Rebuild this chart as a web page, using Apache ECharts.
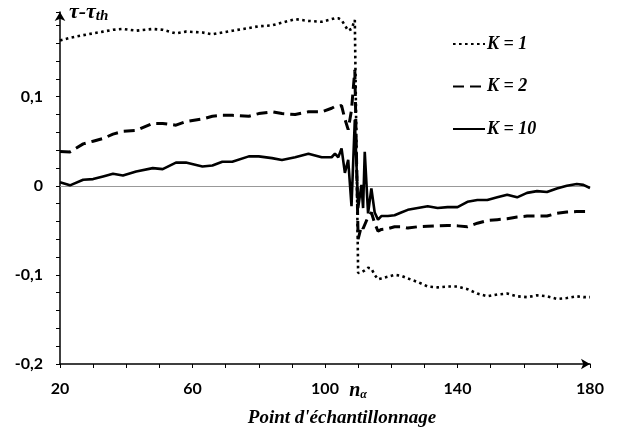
<!DOCTYPE html>
<html>
<head>
<meta charset="utf-8">
<script src="https://cdn.jsdelivr.net/npm/echarts@6/dist/echarts.min.js"></script>
<style>html,body{margin:0;padding:0;background:#fff;}#c{width:629px;height:434px;}</style>
</head>
<body>
<div id="c"></div>
<script>
const samples = [20,23,27,30,33,36,39,43,48,51,55,58,63,66,69,72,77,80,84,87,91,95,99,102,103,104,105,106,107,108,109,110,111,111.5,112,113,114,115,116,117,119,121,123,125,128,131,134,137,140,143,146,149,152,155,158,161,164,167,170,173,176,178,180];
const k1 = [0.163,0.166,0.169,0.171,0.173,0.175,0.176,0.174,0.176,0.175,
  0.171,0.173,0.172,0.170,0.172,0.174,0.177,0.179,0.180,0.183,
  0.187,0.185,0.184,0.187,0.188,0.188,0.186,0.180,0.174,0.176,
  0.186,-0.098,-0.097,-0.096,-0.095,-0.092,-0.093,-0.100,-0.105,-0.104,
  -0.102,-0.100,-0.101,-0.104,-0.108,-0.113,-0.114,-0.113,-0.113,-0.116,
  -0.121,-0.124,-0.122,-0.121,-0.124,-0.125,-0.123,-0.124,-0.127,-0.126,
  -0.124,-0.125,-0.125];
const k2 = [0.0385,0.038,0.047,0.050,0.053,0.058,0.061,0.062,0.070,0.070,
  0.068,0.072,0.075,0.078,0.079,0.079,0.078,0.081,0.083,0.081,
  0.080,0.083,0.083,0.087,0.089,0.089,0.090,0.075,0.063,0.085,
  0.130,-0.060,-0.045,-0.048,-0.050,-0.035,-0.030,-0.042,-0.051,-0.049,
  -0.048,-0.046,-0.046,-0.0475,-0.046,-0.0455,-0.045,-0.0445,-0.045,-0.046,
  -0.042,-0.039,-0.038,-0.037,-0.035,-0.034,-0.034,-0.034,-0.031,-0.0295,
  -0.029,-0.029,-0.029];
const k10 = [0.004,0.0005,0.0067,0.0075,0.0105,0.0135,0.0116,0.016,0.0198,0.0187,
  0.026,0.026,0.0217,0.0228,0.027,0.027,0.033,0.033,0.031,0.029,
  0.032,0.036,0.032,0.032,0.036,0.032,0.042,0.0145,0.029,-0.023,
  0.074,-0.025,0.001,-0.025,0.038,-0.031,-0.003,-0.030,-0.038,-0.034,
  -0.034,-0.033,-0.030,-0.027,-0.025,-0.023,-0.025,-0.024,-0.024,-0.018,
  -0.016,-0.016,-0.013,-0.010,-0.013,-0.008,-0.006,-0.007,-0.003,0.0,
  0.002,0.001,-0.0025];
const seriesNames = ['K = 1','K = 2','K = 10'];
const xLabels = {20:'20',60:'60',100:'100',110:'{n|n}{s|α}',140:'140',180:'180'};
const yLabels = {'-0.2':'-0,2','-0.1':'-0,1','0':'0','0.1':'0,1'};

const pair = arr => samples.map((x,i)=>[x,arr[i]]);
const serif = 'Liberation Serif';
const numFont = 'Lato';

const chart = echarts.init(document.getElementById('c'), null, {renderer:'canvas'});
chart.setOption({
  animation:false,
  backgroundColor:'#fff',
  grid:{left:60,right:39,top:12,bottom:70},
  legend:{
    orient:'vertical', left:447, top:30, itemGap:24.5, itemWidth:32, itemHeight:14,
    data:seriesNames,
    itemStyle:{color:'rgba(0,0,0,0)',borderWidth:0,opacity:0},
    textStyle:{fontFamily:serif,fontWeight:'bold',fontStyle:'italic',fontSize:18,color:'#000',padding:[0,0,0,-3]}
  },
  xAxis:{
    type:'value', min:20, max:180, interval:10,
    axisLine:{show:true,onZero:false,symbol:['none','arrow'],symbolSize:[8,9],lineStyle:{color:'#000',width:1.5}},
    axisTick:{show:true,length:4,lineStyle:{color:'#000',width:1}},
    splitLine:{show:false},
    axisLabel:{
      margin:17, color:'#000', fontFamily:numFont, fontWeight:'bold', fontSize:16,
      formatter:v=>xLabels[Math.round(v)] && Math.abs(v-Math.round(v))<1e-6 ? xLabels[Math.round(v)] : '',
      rich:{
        n:{fontFamily:serif,fontWeight:'bold',fontStyle:'italic',fontSize:20,color:'#000'},
        s:{fontFamily:serif,fontStyle:'italic',fontSize:12,color:'#000',padding:[8,0,0,0]}
      }
    }
  },
  yAxis:{
    type:'value', min:-0.2, max:0.195, interval:0.02,
    axisLine:{show:true,onZero:false,symbol:['none','arrow'],symbolSize:[8,9],lineStyle:{color:'#000',width:1.5}},
    axisTick:{show:true,length:4,lineStyle:{color:'#000',width:1}},
    splitLine:{show:false},
    axisLabel:{
      margin:17, color:'#000', fontFamily:numFont, fontWeight:'bold', fontSize:16,
      formatter:v=>{const k=String(Math.round(v*100)/100); return yLabels[k]!==undefined?yLabels[k]:'';}
    }
  },
  graphic:[
    {type:'text', left:69, top:1, style:{rich:{a:{fontFamily:serif,fontWeight:'bold',fontStyle:'italic',fontSize:22,fill:'#000'},b:{fontFamily:serif,fontWeight:'bold',fontStyle:'italic',fontSize:15,fill:'#000',padding:[8,0,0,0]}}, text:'{a|τ-τ}{b|th}'}},
    {type:'text', x:342, y:418, style:{text:"Point d'échantillonnage", fontFamily:serif, fontWeight:'bold', fontStyle:'italic', fontSize:19, fill:'#000', align:'center', verticalAlign:'middle'}}
  ],
  series:[
    {name:seriesNames[0], type:'line', data:pair(k1), symbol:'none', showSymbol:false, z:3,
     lineStyle:{color:'#000',width:2.6,type:[2.6,3.4]}, itemStyle:{color:'#000'},
     markLine:{silent:true,symbol:'none',label:{show:false},lineStyle:{color:'#999',width:1,type:'solid'},data:[{yAxis:0}],z:1}},
    {name:seriesNames[1], type:'line', data:pair(k2), symbol:'none', showSymbol:false, z:3,
     lineStyle:{color:'#000',width:3,type:[11,6]}, itemStyle:{color:'#000'}},
    {name:seriesNames[2], type:'line', data:pair(k10), symbol:'none', showSymbol:false, z:3,
     lineStyle:{color:'#000',width:2.6,type:'solid'}, itemStyle:{color:'#000'}}
  ]
});
</script>
</body>
</html>
